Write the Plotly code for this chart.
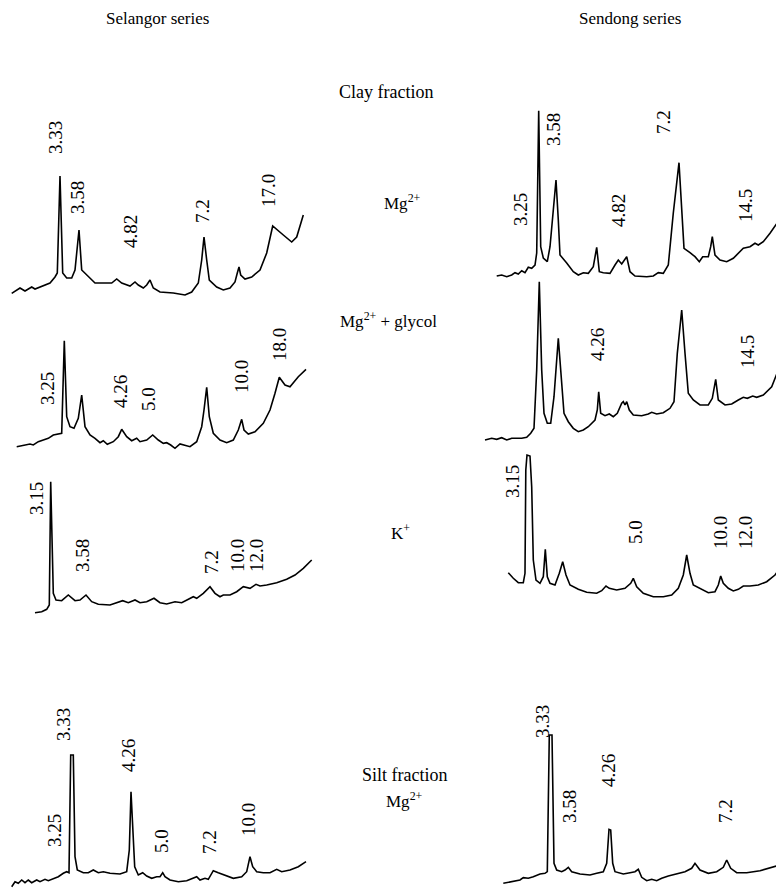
import plotly.graph_objects as go

sel_mg_x = [11.7, 20, 25, 31.7, 35, 40, 50, 55, 57.3, 60, 62.7, 66.7, 71.7, 75, 79, 81.7, 86.7, 95, 106.7, 111.7, 116.7, 121.7, 130, 135, 138.3, 143.3, 146.7, 150, 153.3, 160, 173.3, 185, 191.7, 198.3, 201.7, 204, 206.7, 209.3, 216.7, 223.3, 230, 235, 237.3, 239, 240.7, 245, 251.7, 260, 266.7, 272.7, 283.3, 291.7, 296.7, 303.3]
sel_mg_y = [293.3, 288, 291, 287, 289, 287, 283, 277, 273, 176, 273, 278, 278, 270, 230, 270, 275, 283, 283, 283, 279, 283, 286, 282, 285, 288, 285, 280, 288, 292, 293, 295, 292, 283, 260, 237, 260, 280, 287, 290, 288, 282, 273, 267, 275, 279, 277, 270, 253, 226, 235, 242, 237, 215]

sen_mg_x = [496.7, 501.7, 506.7, 511.7, 515, 518.3, 521.7, 525, 528.3, 531.7, 535, 536.7, 538.7, 540.7, 543.3, 547.3, 550, 553.3, 556, 558.3, 560, 566.7, 573.3, 578.3, 583.3, 588.3, 593.3, 596.7, 599.3, 603.3, 610, 615, 618.3, 621.7, 626.7, 630, 635, 646.7, 653.3, 658.3, 663.3, 668.3, 673.3, 679, 681.7, 684, 690, 695, 699.3, 702.7, 708.3, 710.7, 712.3, 715, 720, 726.7, 733.3, 743.3, 750, 755, 758.3, 763.3, 770, 779.3]
sen_mg_y = [276, 275, 276.7, 275, 272.7, 274, 270.7, 272.7, 267.3, 268.3, 265, 253, 110.7, 246.7, 258, 261.7, 246.7, 213, 180, 220, 255, 263, 271.7, 275, 272.7, 273.3, 266.7, 247.3, 271.7, 272.7, 273.3, 265, 260, 264, 256.7, 271.7, 276, 276.7, 276, 272.7, 273.3, 265, 213, 162.7, 213, 248.3, 252.7, 256.7, 261.7, 256.7, 256.7, 246.7, 236.7, 255, 260, 261.7, 258.3, 248.3, 246.7, 243.3, 245, 241.7, 233.3, 220]

sel_gly_x = [16.7, 25, 30, 33.3, 38.3, 43.3, 48.3, 53.3, 58.3, 61.7, 64.3, 66.7, 70, 74, 78.3, 81.7, 85, 90, 95, 100, 103.3, 107.3, 113.3, 118.3, 121.7, 126.7, 131.7, 136.7, 140, 146.7, 152.7, 158.3, 163.3, 166.7, 170.7, 175, 180, 185, 190, 196.7, 201.7, 204, 206.7, 209.3, 213.3, 220, 226.7, 233.3, 238.3, 241.7, 244, 248.3, 255, 263.3, 270, 275, 279.3, 285, 290, 298.3, 306]
sel_gly_y = [446.7, 445, 444, 445, 441.7, 440, 438.3, 435, 434.3, 433.3, 340.7, 416.7, 426.7, 428.3, 418.3, 395, 426.7, 435, 438.3, 442.7, 440.7, 444.3, 441.7, 436.7, 429.3, 436.7, 440.7, 438.3, 441.7, 440, 435, 440, 443.3, 442.7, 445, 448.3, 444, 445, 446.7, 441.7, 426.7, 410, 387.3, 416.7, 433.3, 440, 442.7, 440, 430, 419.3, 430, 434, 431.7, 423.3, 410, 393.3, 377.3, 385, 386.7, 376.7, 369.3]

sen_gly_x = [485, 491.7, 496.7, 501.7, 506.7, 511.7, 516.7, 521.7, 526.7, 530.7, 534, 536.7, 539.3, 541.7, 544, 547.3, 550.7, 554, 558.3, 561.7, 564, 568.3, 573.3, 578.3, 583.3, 588.3, 595, 597.3, 598.7, 600.7, 605, 609.3, 613.3, 617.3, 621.7, 623.3, 625, 626.7, 629.3, 633.3, 641.7, 648.3, 651.7, 656.7, 663.3, 670, 674, 677.3, 681.7, 685, 688.3, 693.3, 700, 708.3, 712.3, 715.7, 718.3, 725, 731.7, 738.3, 743.3, 747.3, 752.7, 756.7, 763.3, 771.7, 778.3, 781.7, 783.3]
sen_gly_y = [440, 438.3, 439.3, 437.7, 440, 438.3, 438.3, 438.3, 437.3, 433.3, 428.3, 370, 281.7, 370, 413.3, 423.3, 423.3, 396.7, 338.3, 386.7, 413.3, 421.7, 428.3, 431.7, 430, 426.7, 420, 410, 391.7, 413.3, 415.7, 414, 416.7, 413.3, 403.3, 401.7, 405, 401.7, 410, 415, 415.7, 414, 412.3, 414, 412.7, 408.3, 401.7, 353.3, 310, 353.3, 393.3, 400, 405, 405, 398.3, 379.3, 400, 405, 404, 400, 397.3, 398.3, 396, 397.3, 395, 386.7, 370, 350, 328.3]

sel_k_x = [35, 41.7, 46.7, 49.3, 50.7, 53.3, 56, 61.7, 68.3, 75, 80, 86, 91.7, 98.3, 110, 116.7, 122.7, 128.3, 135, 140, 146.7, 154, 160, 166.7, 175, 181.7, 186.7, 193.3, 196.7, 203.3, 210, 215, 220, 223.3, 230, 236.7, 243.3, 250, 256, 260, 266.7, 276.7, 286.7, 295, 303.3, 311.7]
sel_k_y = [612.7, 611.7, 609.3, 605, 481.7, 593.3, 600, 600.7, 595, 600.7, 600, 595, 601.7, 604.3, 605, 602.7, 600.7, 602.7, 600, 602.7, 601.7, 598.3, 602.7, 604, 601.7, 602.7, 600, 596.7, 598.3, 593.3, 586.7, 593.3, 596.7, 595, 595, 591.7, 586.7, 588.3, 584.3, 586, 585, 582.7, 579.3, 575, 568.3, 560]

sen_k_x = [508.3, 513.3, 518.3, 523.3, 525, 525.8, 527, 530, 531.7, 533.3, 536, 540, 543.3, 545.3, 547.3, 550, 555, 559.3, 562.7, 566, 570, 578.3, 586.7, 596.7, 601.7, 606, 609.3, 616.7, 625, 630.7, 633.3, 636.7, 643.3, 653.3, 663.3, 671.7, 678.3, 683.3, 686.7, 690, 693.3, 700, 708.3, 715, 718.3, 720.7, 723.3, 728.3, 733.3, 738.3, 743.3, 750, 758.3, 766.7, 775, 780.7, 783.3]
sen_k_y = [572.7, 578.3, 582.7, 582.7, 573.3, 470, 455, 456, 486.7, 560, 580, 583.3, 576.7, 549.3, 576.7, 583.3, 585, 573.3, 561.7, 575, 585, 589.3, 592.3, 593.3, 590.7, 586, 588.3, 590, 588.3, 583.3, 578.3, 586.7, 593.3, 596.7, 596.7, 595, 588.3, 575, 555, 573.3, 585, 588.3, 592.7, 591.7, 585, 576, 583.3, 588.3, 591, 589.3, 586, 586, 585, 581.7, 575, 566.7, 560]

sel_silt_x = [11.7, 15, 18.3, 21.7, 25, 28.3, 31.7, 36.7, 40, 45, 48.3, 53.3, 58.3, 63.3, 66.7, 69, 70.7, 73.3, 75, 77.3, 83.3, 88.3, 93.3, 98.3, 103.3, 110, 120, 126.7, 129.3, 131, 132.7, 134.7, 138.3, 142.7, 146.7, 151.7, 156.7, 160, 162.7, 165, 170, 178.3, 186.7, 193.3, 196.7, 200, 205, 208.3, 213.3, 218.3, 225, 233.3, 241.7, 246.7, 250, 252.7, 256.7, 263.3, 270, 276.7, 281.7, 290, 298.3, 306]
sel_silt_y = [886.7, 881.7, 883.3, 880, 882.7, 880, 882.7, 880, 881.7, 879.3, 880.7, 878.3, 876.7, 873.3, 871.7, 872.7, 755, 755, 856.7, 870, 872.7, 872.7, 870, 872.7, 871.7, 873.3, 874, 871.7, 850, 791.7, 823.3, 866.7, 875, 872.7, 876, 878.3, 876.7, 876.7, 872.7, 876.7, 880, 881.7, 880.7, 878.3, 876.7, 880, 878.3, 879.3, 870.7, 872.7, 875, 878.3, 876.7, 871.7, 856.7, 866.7, 871.7, 872.7, 872.7, 869.3, 871.7, 870, 866.7, 861.7]

sen_silt_x = [503.3, 513.3, 520, 523.3, 528.3, 533.3, 540, 545, 547.3, 549.3, 552, 554, 556.7, 561.7, 565, 568.3, 571.7, 580, 590, 596.7, 603.3, 606.7, 609, 610.7, 612.7, 615, 623.3, 630, 635, 638.3, 641.7, 646.7, 651.7, 656.7, 661.7, 668.3, 676.7, 685, 691.7, 695, 700, 708.3, 716.7, 723.3, 726.7, 730.7, 736.7, 746.7, 760, 770, 776.7]
sen_silt_y = [883.3, 881.7, 880, 877.7, 878.3, 876.7, 874, 873.3, 871.7, 735, 735, 863.3, 870, 871.7, 870, 867.3, 871.7, 874, 875, 873.3, 871.7, 863.3, 829.3, 830, 863.3, 871.7, 874, 872.7, 871.7, 869.3, 877.3, 880.7, 879.3, 880.7, 878.3, 876, 874, 871.7, 868.3, 863.3, 870, 873.3, 871.7, 867.3, 860, 868.3, 872.7, 872.7, 870.7, 868.3, 866]

traces = [
    (sel_mg_x, sel_mg_y), (sen_mg_x, sen_mg_y),
    (sel_gly_x, sel_gly_y), (sen_gly_x, sen_gly_y),
    (sel_k_x, sel_k_y), (sen_k_x, sen_k_y),
    (sel_silt_x, sel_silt_y), (sen_silt_x, sen_silt_y),
]

# ---------- peak labels (d-spacings, Angstrom) ----------
peak_text = ["3.33", "3.58", "4.82", "7.2", "17.0",
             "3.25", "3.58", "4.82", "7.2", "14.5",
             "3.25", "4.26", "5.0", "10.0", "18.0",
             "4.26", "14.5",
             "3.15", "3.58", "7.2", "10.0", "12.0",
             "3.15", "5.0", "10.0", "12.0",
             "3.33", "4.26", "3.25", "5.0", "7.2", "10.0",
             "3.33", "3.58", "4.26", "7.2"]
peak_x = [55, 77, 130, 202, 268,
          520, 553, 618, 663, 745,
          47, 120, 148, 241, 279,
          597, 747,
          36, 82, 211, 237, 256,
          512, 635, 720, 745,
          63, 128, 54, 161, 209, 248,
          542, 569, 608, 725]
peak_y = [138, 198, 232, 211, 191,
          210, 130, 211, 122, 206,
          389, 392, 399, 377, 345,
          345, 352,
          499, 556, 562, 556, 556,
          482, 532, 533, 533,
          725, 756, 831, 841, 842, 820,
          722, 807, 771, 811]

# ---------- other labels ----------
side_text = ["Selangor series", "Sendong series", "Clay fraction",
             "Mg<sup>2+</sup>", "Mg<sup>2+</sup> + glycol", "K<sup>+</sup>",
             "Silt fraction", "Mg<sup>2+</sup>"]
side_x = [157, 630, 386, 402, 388, 400, 404, 404]
side_y = [18, 18, 92, 202, 320, 532, 775, 800]
side_size = [17, 17, 18, 17, 17, 17, 18, 17]

fig = go.Figure()
for tx, ty in traces:
    fig.add_trace(go.Scatter(x=tx, y=ty, mode="lines",
                             line=dict(color="black", width=1.6),
                             hoverinfo="skip", showlegend=False))

font = "Liberation Serif, Times New Roman, serif"
for t, x, y in zip(peak_text, peak_x, peak_y):
    fig.add_annotation(x=x, y=y, text=t, textangle=-90, showarrow=False,
                       xanchor="center", yanchor="middle",
                       font=dict(family=font, size=19, color="black"))
for t, x, y, s in zip(side_text, side_x, side_y, side_size):
    fig.add_annotation(x=x, y=y, text=t, showarrow=False,
                       xanchor="center", yanchor="middle",
                       font=dict(family=font, size=s, color="black"))

# the page body adds an 8 px offset; compensate via the axis ranges
fig.update_layout(width=784, height=893,
                  margin=dict(l=0, r=0, t=0, b=0),
                  paper_bgcolor="white", plot_bgcolor="white",
                  showlegend=False)
fig.update_xaxes(range=[8, 792], visible=False, fixedrange=True)
fig.update_yaxes(range=[901, 8], visible=False, fixedrange=True)

fig.write_html("out.html")
